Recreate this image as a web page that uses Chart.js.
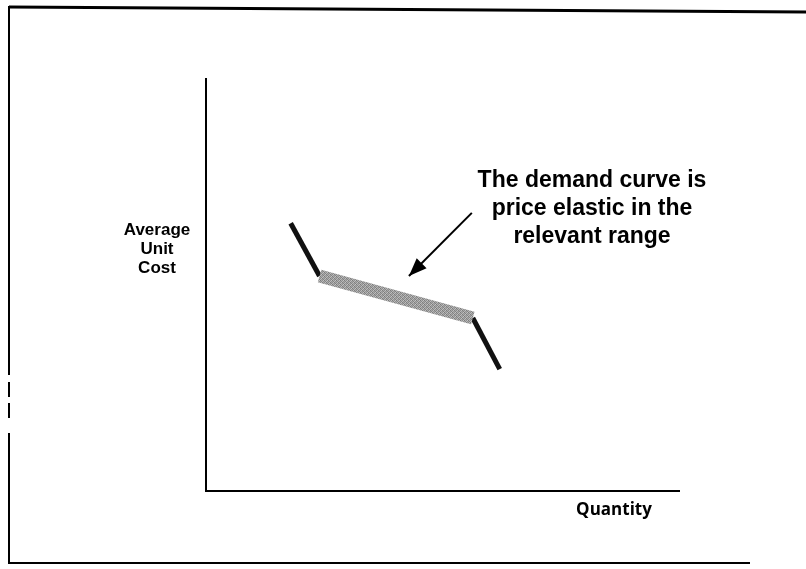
<!DOCTYPE html>
<html>
<head>
<meta charset="utf-8">
<script src="https://cdn.jsdelivr.net/npm/chart.js@4.4.1/dist/chart.umd.min.js"></script>
<style>
  body { margin: 0; background: #fff; }
  canvas { display: block; }
</style>
</head>
<body>
<canvas id="demand" width="806" height="569"></canvas>
<script>
// kink points of the demand curve (quantity, average unit cost), axis runs 0..10
const curveQty  = [1.79, 2.40, 5.64, 6.21];
const curveCost = [6.50, 5.22, 4.20, 2.96];

// annotation arrow: from the text down to the flat part of the curve
const arrowQty  = [5.62, 4.29];
const arrowCost = [6.75, 5.22];

const noteLines = ['The demand curve is', 'price elastic in the', 'relevant range'];
const yLabelLines = ['Average', 'Unit', 'Cost'];
const xLabel = 'Quantity';

const pts = (xs, ys, from, to) => xs.slice(from, to).map((x, i) => ({ x: x, y: ys[from + i] }));

// dithered grey for the elastic stretch, like the scanned original
function bandPattern() {
  const c = document.createElement('canvas');
  c.width = 4; c.height = 4;
  const g = c.getContext('2d');
  const shades = ['#7a7a7a', '#b0b0b0', '#8e8e8e', '#c4c4c4',
                  '#a6a6a6', '#858585', '#bcbcbc', '#909090',
                  '#8a8a8a', '#c0c0c0', '#7e7e7e', '#aaaaaa',
                  '#b8b8b8', '#949494', '#a2a2a2', '#828282'];
  shades.forEach((s, i) => { g.fillStyle = s; g.fillRect(i % 4, Math.floor(i / 4), 1, 1); });
  return g.createPattern(c, 'repeat');
}

const decorations = {
  id: 'decorations',
  afterDatasetsDraw(chart) {
    const { ctx, scales: { x, y } } = chart;
    // arrow head
    const x0 = x.getPixelForValue(arrowQty[0]), y0 = y.getPixelForValue(arrowCost[0]);
    const x1 = x.getPixelForValue(arrowQty[1]), y1 = y.getPixelForValue(arrowCost[1]);
    const a = Math.atan2(y1 - y0, x1 - x0);
    const len = 18, half = 7;
    ctx.save();
    ctx.fillStyle = '#000';
    ctx.beginPath();
    ctx.moveTo(x1, y1);
    ctx.lineTo(x1 - len * Math.cos(a) + half * Math.sin(a), y1 - len * Math.sin(a) - half * Math.cos(a));
    ctx.lineTo(x1 - len * Math.cos(a) - half * Math.sin(a), y1 - len * Math.sin(a) + half * Math.cos(a));
    ctx.closePath();
    ctx.fill();

    // note text
    ctx.textAlign = 'center';
    ctx.textBaseline = 'alphabetic';
    ctx.font = 'bold 23px "Liberation Sans", Arial, sans-serif';
    noteLines.forEach((t, i) => ctx.fillText(t, 592, 187 + i * 28));

    // axis labels
    ctx.font = 'bold 17px "Liberation Sans", Arial, sans-serif';
    yLabelLines.forEach((t, i) => ctx.fillText(t, 157, 235 + i * 19));
    ctx.font = 'bold 17px "Open Sans", "Liberation Sans", sans-serif';
    ctx.fillText(xLabel, 614, 515);

    // page frame of the scanned figure
    ctx.strokeStyle = '#000';
    ctx.lineWidth = 3;
    ctx.beginPath();
    ctx.moveTo(9, 7); ctx.lineTo(806, 12);
    ctx.stroke();
    ctx.lineWidth = 2;
    ctx.beginPath();
    ctx.moveTo(9, 563); ctx.lineTo(750, 563);
    [[6, 375], [382, 397], [403, 418], [433, 564]].forEach(([a0, a1]) => {
      ctx.moveTo(9, a0); ctx.lineTo(9, a1);
    });
    ctx.stroke();
    ctx.restore();
  }
};

const steep = { borderColor: '#111', borderWidth: 5, borderCapStyle: 'butt' };

new Chart(document.getElementById('demand'), {
  type: 'scatter',
  data: {
    datasets: [
      { data: pts(curveQty, curveCost, 1, 3), showLine: true, borderColor: bandPattern(), borderWidth: 13, borderCapStyle: 'butt', pointRadius: 0 },
      Object.assign({ data: pts(curveQty, curveCost, 0, 2), showLine: true, pointRadius: 0 }, steep),
      Object.assign({ data: pts(curveQty, curveCost, 2, 4), showLine: true, pointRadius: 0 }, steep),
      { data: pts(arrowQty, arrowCost, 0, 2), showLine: true, borderColor: '#000', borderWidth: 2, pointRadius: 0 }
    ]
  },
  options: {
    responsive: false,
    animation: false,
    layout: { padding: { left: 206, right: 127, top: 79, bottom: 78 } },
    plugins: { legend: { display: false }, tooltip: { enabled: false } },
    scales: {
      x: {
        type: 'linear', min: 0, max: 10,
        ticks: { display: false },
        grid: { display: false, drawTicks: false },
        border: { display: true, color: '#000', width: 2 }
      },
      y: {
        type: 'linear', min: 0, max: 10,
        ticks: { display: false },
        grid: { display: false, drawTicks: false },
        border: { display: true, color: '#000', width: 2 }
      }
    }
  },
  plugins: [decorations]
});
</script>
</body>
</html>
